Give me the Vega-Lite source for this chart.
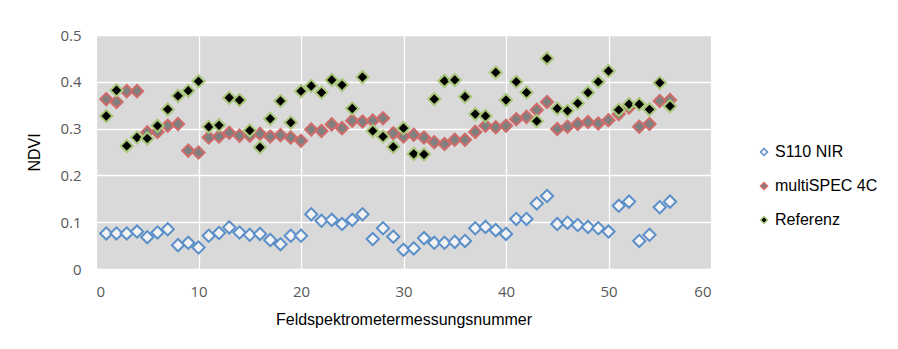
{
  "$schema": "https://vega.github.io/schema/vega-lite/v6.json",
  "width": 615,
  "height": 234,
  "autosize": "none",
  "padding": {"left": 96, "top": 35, "right": 187, "bottom": 80},
  "background": "white",
  "config": {
    "view": {"fill": "#d9d9d9", "stroke": null},
    "axis": {"grid": true, "gridColor": "white", "gridWidth": 1.3, "domain": false, "ticks": false,
             "labelFont": "Open Sans", "labelFontSize": 15, "labelColor": "#595959",
             "titleFont": "Liberation Sans", "titleFontSize": 16, "titleFontWeight": "normal", "titleColor": "black"}
  },
  "data": {"values": [
    {"n":1,"s":"S110 NIR","v":0.076},{"n":2,"s":"S110 NIR","v":0.076},{"n":3,"s":"S110 NIR","v":0.076},{"n":4,"s":"S110 NIR","v":0.080},{"n":5,"s":"S110 NIR","v":0.068},{"n":6,"s":"S110 NIR","v":0.078},{"n":7,"s":"S110 NIR","v":0.085},{"n":8,"s":"S110 NIR","v":0.051},{"n":9,"s":"S110 NIR","v":0.056},{"n":10,"s":"S110 NIR","v":0.046},
    {"n":11,"s":"S110 NIR","v":0.071},{"n":12,"s":"S110 NIR","v":0.077},{"n":13,"s":"S110 NIR","v":0.089},{"n":14,"s":"S110 NIR","v":0.078},{"n":15,"s":"S110 NIR","v":0.073},{"n":16,"s":"S110 NIR","v":0.075},{"n":17,"s":"S110 NIR","v":0.062},{"n":18,"s":"S110 NIR","v":0.053},{"n":19,"s":"S110 NIR","v":0.071},{"n":20,"s":"S110 NIR","v":0.071},
    {"n":21,"s":"S110 NIR","v":0.117},{"n":22,"s":"S110 NIR","v":0.103},{"n":23,"s":"S110 NIR","v":0.105},{"n":24,"s":"S110 NIR","v":0.096},{"n":25,"s":"S110 NIR","v":0.105},{"n":26,"s":"S110 NIR","v":0.117},{"n":27,"s":"S110 NIR","v":0.064},{"n":28,"s":"S110 NIR","v":0.087},{"n":29,"s":"S110 NIR","v":0.069},{"n":30,"s":"S110 NIR","v":0.041},
    {"n":31,"s":"S110 NIR","v":0.044},{"n":32,"s":"S110 NIR","v":0.066},{"n":33,"s":"S110 NIR","v":0.056},{"n":34,"s":"S110 NIR","v":0.056},{"n":35,"s":"S110 NIR","v":0.058},{"n":36,"s":"S110 NIR","v":0.060},{"n":37,"s":"S110 NIR","v":0.087},{"n":38,"s":"S110 NIR","v":0.090},{"n":39,"s":"S110 NIR","v":0.083},{"n":40,"s":"S110 NIR","v":0.075},
    {"n":41,"s":"S110 NIR","v":0.107},{"n":42,"s":"S110 NIR","v":0.107},{"n":43,"s":"S110 NIR","v":0.140},{"n":44,"s":"S110 NIR","v":0.156},{"n":45,"s":"S110 NIR","v":0.096},{"n":46,"s":"S110 NIR","v":0.099},{"n":47,"s":"S110 NIR","v":0.094},{"n":48,"s":"S110 NIR","v":0.090},{"n":49,"s":"S110 NIR","v":0.087},{"n":50,"s":"S110 NIR","v":0.080},
    {"n":51,"s":"S110 NIR","v":0.135},{"n":52,"s":"S110 NIR","v":0.144},{"n":53,"s":"S110 NIR","v":0.060},{"n":54,"s":"S110 NIR","v":0.073},{"n":55,"s":"S110 NIR","v":0.132},{"n":56,"s":"S110 NIR","v":0.144},
    {"n":1,"s":"multiSPEC 4C","v":0.363},{"n":2,"s":"multiSPEC 4C","v":0.357},{"n":3,"s":"multiSPEC 4C","v":0.380},{"n":4,"s":"multiSPEC 4C","v":0.380},{"n":5,"s":"multiSPEC 4C","v":0.292},{"n":6,"s":"multiSPEC 4C","v":0.293},{"n":7,"s":"multiSPEC 4C","v":0.306},{"n":8,"s":"multiSPEC 4C","v":0.310},{"n":9,"s":"multiSPEC 4C","v":0.253},{"n":10,"s":"multiSPEC 4C","v":0.249},
    {"n":11,"s":"multiSPEC 4C","v":0.281},{"n":12,"s":"multiSPEC 4C","v":0.283},{"n":13,"s":"multiSPEC 4C","v":0.291},{"n":14,"s":"multiSPEC 4C","v":0.285},{"n":15,"s":"multiSPEC 4C","v":0.285},{"n":16,"s":"multiSPEC 4C","v":0.289},{"n":17,"s":"multiSPEC 4C","v":0.283},{"n":18,"s":"multiSPEC 4C","v":0.286},{"n":19,"s":"multiSPEC 4C","v":0.281},{"n":20,"s":"multiSPEC 4C","v":0.274},
    {"n":21,"s":"multiSPEC 4C","v":0.298},{"n":22,"s":"multiSPEC 4C","v":0.295},{"n":23,"s":"multiSPEC 4C","v":0.309},{"n":24,"s":"multiSPEC 4C","v":0.301},{"n":25,"s":"multiSPEC 4C","v":0.317},{"n":26,"s":"multiSPEC 4C","v":0.315},{"n":27,"s":"multiSPEC 4C","v":0.317},{"n":28,"s":"multiSPEC 4C","v":0.322},{"n":29,"s":"multiSPEC 4C","v":0.290},{"n":30,"s":"multiSPEC 4C","v":0.283},
    {"n":31,"s":"multiSPEC 4C","v":0.287},{"n":32,"s":"multiSPEC 4C","v":0.281},{"n":33,"s":"multiSPEC 4C","v":0.271},{"n":34,"s":"multiSPEC 4C","v":0.267},{"n":35,"s":"multiSPEC 4C","v":0.276},{"n":36,"s":"multiSPEC 4C","v":0.276},{"n":37,"s":"multiSPEC 4C","v":0.293},{"n":38,"s":"multiSPEC 4C","v":0.306},{"n":39,"s":"multiSPEC 4C","v":0.303},{"n":40,"s":"multiSPEC 4C","v":0.306},
    {"n":41,"s":"multiSPEC 4C","v":0.320},{"n":42,"s":"multiSPEC 4C","v":0.325},{"n":43,"s":"multiSPEC 4C","v":0.340},{"n":44,"s":"multiSPEC 4C","v":0.357},{"n":45,"s":"multiSPEC 4C","v":0.299},{"n":46,"s":"multiSPEC 4C","v":0.304},{"n":47,"s":"multiSPEC 4C","v":0.310},{"n":48,"s":"multiSPEC 4C","v":0.314},{"n":49,"s":"multiSPEC 4C","v":0.311},{"n":50,"s":"multiSPEC 4C","v":0.318},
    {"n":51,"s":"multiSPEC 4C","v":0.331},{"n":52,"s":"multiSPEC 4C","v":0.345},{"n":53,"s":"multiSPEC 4C","v":0.304},{"n":54,"s":"multiSPEC 4C","v":0.310},{"n":55,"s":"multiSPEC 4C","v":0.359},{"n":56,"s":"multiSPEC 4C","v":0.361},
    {"n":1,"s":"Referenz","v":0.327},{"n":2,"s":"Referenz","v":0.382},{"n":3,"s":"Referenz","v":0.263},{"n":4,"s":"Referenz","v":0.281},{"n":5,"s":"Referenz","v":0.279},{"n":6,"s":"Referenz","v":0.306},{"n":7,"s":"Referenz","v":0.341},{"n":8,"s":"Referenz","v":0.370},{"n":9,"s":"Referenz","v":0.381},{"n":10,"s":"Referenz","v":0.401},
    {"n":11,"s":"Referenz","v":0.304},{"n":12,"s":"Referenz","v":0.307},{"n":13,"s":"Referenz","v":0.366},{"n":14,"s":"Referenz","v":0.361},{"n":15,"s":"Referenz","v":0.296},{"n":16,"s":"Referenz","v":0.260},{"n":17,"s":"Referenz","v":0.321},{"n":18,"s":"Referenz","v":0.359},{"n":19,"s":"Referenz","v":0.313},{"n":20,"s":"Referenz","v":0.380},
    {"n":21,"s":"Referenz","v":0.391},{"n":22,"s":"Referenz","v":0.377},{"n":23,"s":"Referenz","v":0.404},{"n":24,"s":"Referenz","v":0.393},{"n":25,"s":"Referenz","v":0.343},{"n":26,"s":"Referenz","v":0.410},{"n":27,"s":"Referenz","v":0.295},{"n":28,"s":"Referenz","v":0.283},{"n":29,"s":"Referenz","v":0.261},{"n":30,"s":"Referenz","v":0.301},
    {"n":31,"s":"Referenz","v":0.246},{"n":32,"s":"Referenz","v":0.245},{"n":33,"s":"Referenz","v":0.363},{"n":34,"s":"Referenz","v":0.402},{"n":35,"s":"Referenz","v":0.404},{"n":36,"s":"Referenz","v":0.368},{"n":37,"s":"Referenz","v":0.331},{"n":38,"s":"Referenz","v":0.327},{"n":39,"s":"Referenz","v":0.420},{"n":40,"s":"Referenz","v":0.361},
    {"n":41,"s":"Referenz","v":0.400},{"n":42,"s":"Referenz","v":0.377},{"n":43,"s":"Referenz","v":0.316},{"n":44,"s":"Referenz","v":0.450},{"n":45,"s":"Referenz","v":0.343},{"n":46,"s":"Referenz","v":0.338},{"n":47,"s":"Referenz","v":0.354},{"n":48,"s":"Referenz","v":0.377},{"n":49,"s":"Referenz","v":0.400},{"n":50,"s":"Referenz","v":0.423},
    {"n":51,"s":"Referenz","v":0.340},{"n":52,"s":"Referenz","v":0.352},{"n":53,"s":"Referenz","v":0.352},{"n":54,"s":"Referenz","v":0.341},{"n":55,"s":"Referenz","v":0.398},{"n":56,"s":"Referenz","v":0.348}
  ]},
  "mark": {"type": "point", "shape": "diamond", "filled": false, "size": 150, "strokeWidth": 2, "opacity": 1},
  "encoding": {
    "x": {"field": "n", "type": "quantitative", "title": "Feldspektrometermessungsnummer",
          "scale": {"domain": [0, 60], "nice": false},
          "axis": {"values": [0, 10, 20, 30, 40, 50, 60], "labelPadding": 15, "titlePadding": 12}},
    "y": {"field": "v", "type": "quantitative", "title": "NDVI",
          "scale": {"domain": [0, 0.5], "nice": false},
          "axis": {"values": [0, 0.1, 0.2, 0.3, 0.4, 0.5], "format": "~g", "labelPadding": 15, "titlePadding": 17}},
    "stroke": {"field": "s", "type": "nominal", "sort": ["S110 NIR", "multiSPEC 4C", "Referenz"],
               "scale": {"domain": ["S110 NIR", "multiSPEC 4C", "Referenz"], "range": ["#5b8fc9", "#cf6b68", "#a9c77a"]},
               "legend": {"title": null, "orient": "none", "legendX": 660, "legendY": 109,
                          "symbolSize": 50, "symbolStrokeWidth": 1.5, "symbolType": "diamond",
                          "labelFont": "Liberation Sans", "labelFontSize": 16, "labelColor": "black",
                          "labelOffset": 3, "rowPadding": 18, "padding": 0}},
    "fill": {"field": "s", "type": "nominal", "sort": ["S110 NIR", "multiSPEC 4C", "Referenz"],
             "scale": {"domain": ["S110 NIR", "multiSPEC 4C", "Referenz"], "range": ["#f2f2f2", "#808080", "#000000"]},
             "legend": {"title": null, "orient": "none", "legendX": 660, "legendY": 109,
                        "symbolSize": 50, "symbolStrokeWidth": 1.5, "symbolType": "diamond",
                        "labelFont": "Liberation Sans", "labelFontSize": 16, "labelColor": "black",
                        "labelOffset": 3, "rowPadding": 18, "padding": 0}}
  }
}
